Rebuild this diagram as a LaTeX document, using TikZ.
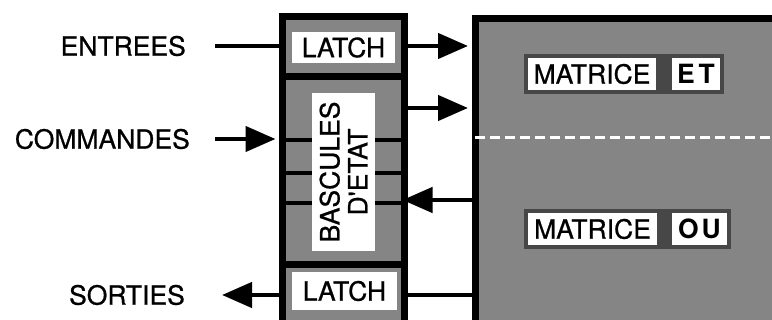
\documentclass[tikz,border=0pt]{standalone}
\usepackage{fontspec}
\setmainfont{TeX Gyre Heros}
\newfontfamily\heavyfont{TeX Gyre Heros}[FakeBold=0.8]
\usepackage{xcolor}
\usetikzlibrary{arrows.meta, positioning, calc}
\definecolor{halftone}{gray}{0.52}
\definecolor{halo}{gray}{0.28}

\begin{document}
\begin{tikzpicture}[
    x=1pt, y=-1pt,
    >={Triangle[length=30pt, width=25pt]},
    block/.style={draw, line width=7pt, fill=halftone, inner sep=0pt},
    tag/.style={fill=white, inner sep=0pt, font=\heavyfont\fontsize{26.5}{28}\selectfont},
    iolabel/.style={anchor=east, inner sep=0pt, font=\heavyfont\fontsize{26.5}{28}\selectfont},
    wire/.style={line width=4.5pt},
]
    \clip (0,0) rectangle (772,320);

    % Left column
    \node[block, minimum width=122pt, minimum height=60.5pt] (latchin) at (343.5,46.75) {};
    \node[block, minimum width=122pt, minimum height=188pt] (bascules) at (343.5,171) {};
    \node[block, minimum width=122pt, minimum height=80pt] (latchout) at (343.5,305) {};

    % Matrix
    \node[block, anchor=north west, minimum width=330pt, minimum height=330pt] (matrice) at (471.5,15.5) {};
    \coordinate (split) at (475,138);
    \draw[white, line width=3pt, dash pattern=on 10pt off 5pt] (split) -- (split -| matrice.east);

    % Flip-flop lines
    \foreach \y in {140,173,203}
        \draw[wire] (bascules.west |- 0,\y) -- (bascules.east |- 0,\y);

    % Labels inside the blocks
    \node[tag, minimum width=103pt, minimum height=31pt] (latchintxt) at (343.5,47.5) {LATCH};
    \node[tag, rotate=90, align=center, minimum width=158pt, minimum height=63pt] (basctxt) at (343.5,172) {BASCULES\\D'ETAT};
    \node[tag, minimum width=105pt, minimum height=38pt] (latchouttxt) at (344.5,291) {LATCH};

    \fill[halo] (524,54) rectangle (724,94);
    \fill[halo] (524,209) rectangle (731,249);
    \node[tag, minimum width=128pt, minimum height=32pt] (matet) at (592,74) {MATRICE};
    \node[tag, minimum width=48pt, minimum height=32pt, font=\fontsize{26.5}{28}\selectfont\bfseries] (et) at (696,74) {E\kern4pt T};
    \node[tag, minimum width=129pt, minimum height=32pt] (matou) at (592.5,229) {MATRICE};
    \node[tag, minimum width=55pt, minimum height=32pt, font=\fontsize{26.5}{28}\selectfont\bfseries] (ou) at (699.5,229) {O\kern3pt U};

    % Inputs and outputs
    \node[iolabel] (entrees) at (186,46) {ENTREES};
    \node[iolabel] (commandes) at (190,139) {COMMANDES};
    \node[iolabel] (sorties) at (185,295) {SORTIES};

    \draw[wire] ([xshift=29pt]entrees.east) -- (entrees -| latchin.west);
    \draw[wire, ->, shorten >=3.5pt] ([xshift=25pt]commandes.east) -- (commandes -| bascules.west);
    \draw[wire, ->] (sorties -| latchout.west) -- ([xshift=37pt]sorties.east);

    % Arrows between blocks
    \coordinate (etin) at (404.5,108);
    \coordinate (ouout) at (404.5,200);
    \coordinate (sortout) at (404.5,295);
    \draw[wire, ->, shorten >=3.5pt] (latchin.east |- entrees) -- (entrees -| matrice.west);
    \draw[wire, ->, shorten >=3.5pt] (etin) -- (etin -| matrice.west);
    \draw[wire, ->, shorten >=-2pt] (ouout -| matrice.west) -- (ouout);
    \draw[wire] (sortout) -- (sortout -| matrice.west);
\end{tikzpicture}
\end{document}
